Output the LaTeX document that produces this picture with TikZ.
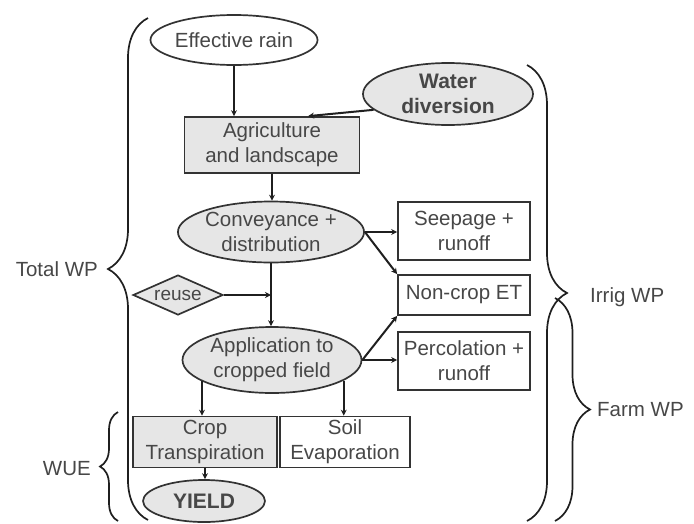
\documentclass[tikz,border=0pt]{standalone}
\usepackage{fontspec}
\setmainfont{Liberation Sans}
\usetikzlibrary{shapes.geometric,arrows.meta,decorations.pathreplacing,calc}

\definecolor{txt}{HTML}{474747}
\definecolor{edge}{HTML}{333333}
\definecolor{shade}{HTML}{E6E6E6}

\tikzset{
  base/.style={draw=edge, line width=1.7pt, text=txt, align=center, inner sep=0pt,
    font=\fontsize{20.5}{25}\selectfont},
  oval/.style={base, ellipse, fill=shade},
  whiteoval/.style={base, ellipse, fill=white},
  box/.style={base, rectangle, fill=white},
  greybox/.style={base, rectangle, fill=shade},
  arr/.style={draw=black!88, line width=2pt, -{Stealth[length=6pt,width=6pt]}},
  bracket/.style={draw=black!88, line width=1.7pt, decorate},
  lbl/.style={text=txt, inner sep=0pt, font=\fontsize{20.5}{25}\selectfont},
}

\begin{document}
\begin{tikzpicture}[x=1pt, y=-1pt]
\useasboundingbox (0,0) rectangle (694,523);

% flow nodes
\node[whiteoval, minimum width=158, minimum height=50] (rain) at (234,40) {Effective rain};
\node[oval, minimum width=170, minimum height=62, font=\fontsize{21}{25}\selectfont\bfseries] (div) at (448,94) {Water\\diversion};
\node[greybox, minimum width=175, minimum height=56] (agri) at (272,145) {Agriculture\\and landscape};
\node[oval, minimum width=177, minimum height=61] (conv) at (271,232) {Conveyance +\\distribution};
\node[base, diamond, fill=shade, aspect=2.25, minimum width=90, minimum height=40, font=\fontsize{19}{22}\selectfont] (reuse) at (178,295) {reuse};
\node[oval, minimum width=179, minimum height=66] (app) at (272,360) {Application to\\cropped field};
\node[box, minimum width=132, minimum height=58] (seep) at (464,231) {Seepage +\\runoff};
\node[box, minimum width=132, minimum height=40] (noncrop) at (464,295) {Non-crop ET};
\node[box, minimum width=132, minimum height=58] (perc) at (464,361) {Percolation +\\runoff};
\node[greybox, minimum width=144, minimum height=51] (crop) at (205,442) {Crop\\Transpiration};
\node[box, minimum width=130, minimum height=51] (soil) at (345,442) {Soil\\Evaporation};
\node[oval, minimum width=122, minimum height=42, font=\fontsize{21}{25}\selectfont\bfseries] (yield) at (204,501) {YIELD};

% connectors
\coordinate (agritop) at ($(agri.north)+(36,0)$);
\draw[arr] (rain.south) -- (rain.south |- agri.north);
\draw[arr] (div.192) -- (agritop);
\draw[arr] (agri.south) -- (agri.south |- conv.north);
\draw[arr] (conv.south) -- (conv.south |- app.north);
\draw[arr] (reuse.east) -- (reuse.east -| conv.south);
\draw[arr] (conv.east) -- (conv.east -| seep.west);
\draw[arr] (conv.east) -- (noncrop.north west);
\draw[arr] (app.east) -- (noncrop.south west);
\draw[arr] (app.east) -- (app.east -| perc.west);
\draw[arr] (app.197) -- (app.197 |- crop.north);
\draw[arr] (app.344) -- (app.344 |- soil.north);
\draw[arr] (crop.south) -- (crop.south |- yield.north);

% braces and their labels
\draw[bracket, decoration={brace, amplitude=40pt}] (148,520) -- (148,18);
\node[lbl, anchor=east] (total) at (98,269) {Total WP};
\draw[bracket, decoration={brace, amplitude=18pt}] (118,521) -- (118,412);
\node[lbl, anchor=east] (wue) at (91,469) {WUE};
\draw[bracket, decoration={brace, amplitude=40pt}] (527,65) -- (527,521);
\node[lbl, anchor=west] (irrig) at (590,297) {Irrig WP};
\draw[bracket, decoration={brace, amplitude=35pt}] (555,298) -- (555,521);
\node[lbl, anchor=west] (farm) at (597,410) {Farm WP};
\end{tikzpicture}
\end{document}
